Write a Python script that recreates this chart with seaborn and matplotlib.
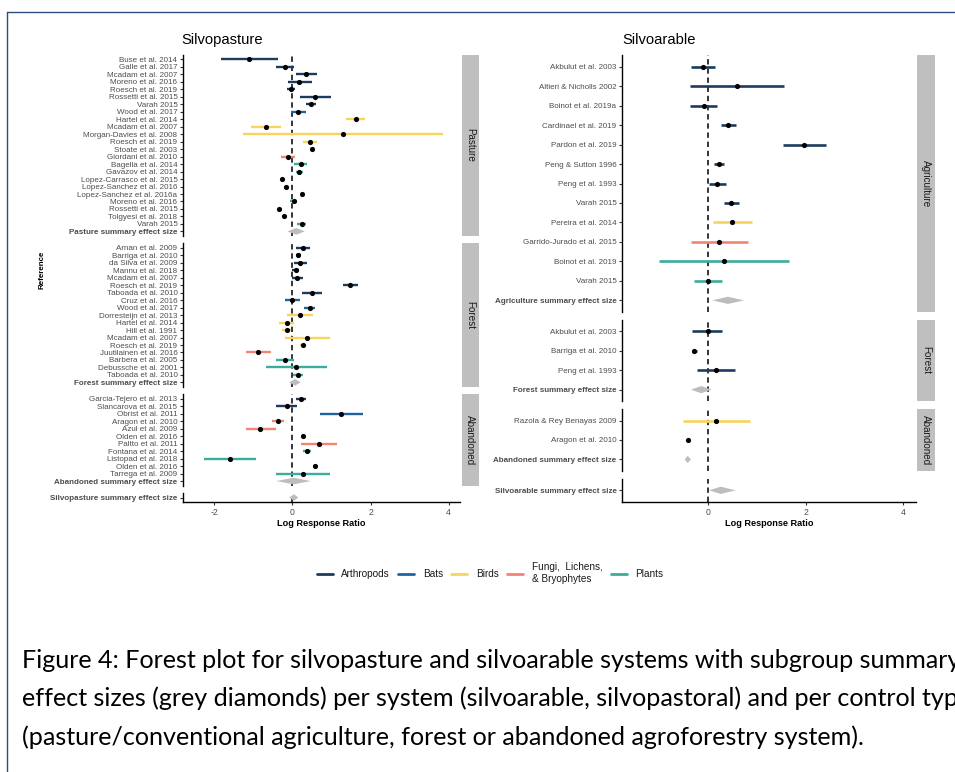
import numpy as np
import pandas as pd
import seaborn as sns
import matplotlib.pyplot as plt
from matplotlib.patches import Polygon, Rectangle
from matplotlib.lines import Line2D

# ---- couleurs par groupe taxonomique
taxa = ['Arthropods', 'Bats', 'Birds', 'Fungi', 'Plants']
taxa_labels = ['Arthropods', 'Bats', 'Birds', 'Fungi,  Lichens,\n& Bryophytes', 'Plants']
palette = {'Arthropods': '#1d3b5c', 'Bats': '#2162a0', 'Birds': '#f9d45c',
           'Fungi': '#f28471', 'Plants': '#3cac9c'}

# ---- Silvopasture / Pasture
pas_study = ['Buse et al. 2014', 'Galle et al. 2017', 'Mcadam et al. 2007', 'Moreno et al. 2016',
             'Roesch et al. 2019', 'Rossetti et al. 2015', 'Varah 2015', 'Wood et al. 2017',
             'Hartel et al. 2014', 'Mcadam et al. 2007', 'Morgan-Davies et al. 2008', 'Roesch et al. 2019',
             'Stoate et al. 2003', 'Giordani et al. 2010', 'Bagella et al. 2014', 'Gavazov et al. 2014',
             'Lopez-Carrasco et al. 2015', 'Lopez-Sanchez et al. 2016', 'Lopez-Sanchez et al. 2016a',
             'Moreno et al. 2016', 'Rossetti et al. 2015', 'Tolgyesi et al. 2018', 'Varah 2015']
pas_taxon = ['Arthropods'] * 7 + ['Bats'] + ['Birds'] * 5 + ['Fungi'] + ['Plants'] * 9
pas_est = [-1.10, -0.18, 0.35, 0.18, -0.04, 0.59, 0.48, 0.15, 1.62, -0.68, 1.29, 0.45,
           0.49, -0.12, 0.21, 0.18, -0.26, -0.16, 0.24, 0.03, -0.35, -0.22, 0.24]
pas_lo = [-1.83, -0.42, 0.09, -0.12, -0.15, 0.20, 0.35, -0.03, 1.37, -1.07, -1.26, 0.28,
          0.46, -0.29, 0.04, 0.09, -0.29, -0.22, 0.21, -0.05, -0.38, -0.25, 0.12]
pas_hi = [-0.36, 0.05, 0.62, 0.50, 0.07, 0.99, 0.60, 0.34, 1.87, -0.29, 3.85, 0.62,
          0.52, 0.06, 0.38, 0.27, -0.23, -0.10, 0.27, 0.12, -0.32, -0.19, 0.36]
pas_summary = [0.10, -0.13, 0.32]

# ---- Silvopasture / Forest
spf_study = ['Arnan et al. 2009', 'Barriga et al. 2010', 'da Silva et al. 2009', 'Mannu et al. 2018',
             'Mcadam et al. 2007', 'Roesch et al. 2019', 'Taboada et al. 2010', 'Cruz et al. 2016',
             'Wood et al. 2017', 'Dorresteijn et al. 2013', 'Hartel et al. 2014', 'Hill et al. 1991',
             'Mcadam et al. 2007', 'Roesch et al. 2019', 'Juutilainen et al. 2016', 'Barbera et al. 2005',
             'Debussche et al. 2001', 'Taboada et al. 2010']
spf_taxon = ['Arthropods'] * 7 + ['Bats'] * 2 + ['Birds'] * 5 + ['Fungi'] + ['Plants'] * 3
spf_est = [0.27, 0.15, 0.20, 0.09, 0.13, 1.48, 0.50, 0.00, 0.44, 0.20, -0.15, -0.15,
           0.38, 0.27, -0.89, -0.19, 0.10, 0.15]
spf_lo = [0.09, 0.09, 0.04, 0.00, 0.00, 1.30, 0.25, -0.19, 0.29, -0.14, -0.34, -0.26,
          -0.19, 0.20, -1.20, -0.41, -0.67, 0.02]
spf_hi = [0.46, 0.21, 0.37, 0.18, 0.27, 1.68, 0.76, 0.19, 0.59, 0.53, 0.04, -0.04,
          0.96, 0.33, -0.56, 0.04, 0.88, 0.28]
spf_summary = [0.07, -0.08, 0.21]

# ---- Silvopasture / Abandoned
spa_study = ['Garcia-Tejero et al. 2013', 'Slancarova et al. 2015', 'Obrist et al. 2011',
             'Aragon et al. 2010', 'Azul et al. 2009', 'Olden et al. 2016', 'Paltto et al. 2011',
             'Fontana et al. 2014', 'Listopad et al. 2018', 'Olden et al. 2016', 'Tarrega et al. 2009']
spa_taxon = ['Arthropods'] * 2 + ['Bats'] + ['Fungi'] * 4 + ['Plants'] * 4
spa_est = [0.21, -0.14, 1.25, -0.37, -0.82, 0.27, 0.67, 0.37, -1.59, 0.57, 0.27]
spa_lo = [0.08, -0.41, 0.70, -0.53, -1.20, 0.24, 0.22, 0.27, -2.26, 0.52, -0.41]
spa_hi = [0.34, 0.12, 1.80, -0.22, -0.43, 0.30, 1.13, 0.47, -0.92, 0.63, 0.96]
spa_summary = [0.03, -0.41, 0.47]

sp_overall = [0.04, -0.08, 0.15]

# ---- Silvoarable / Agriculture
agr_study = ['Akbulut et al. 2003', 'Altieri & Nicholls 2002', 'Boinot et al. 2019a',
             'Cardinael et al. 2019', 'Pardon et al. 2019', 'Peng & Sutton 1996', 'Peng et al. 1993',
             'Varah 2015', 'Pereira et al. 2014', 'Garrido-Jurado et al. 2015', 'Boinot et al. 2019',
             'Varah 2015']
agr_taxon = ['Arthropods'] * 8 + ['Birds', 'Fungi', 'Plants', 'Plants']
agr_est = [-0.12, 0.58, -0.10, 0.41, 1.97, 0.21, 0.18, 0.47, 0.49, 0.22, 0.32, -0.01]
agr_lo = [-0.36, -0.39, -0.38, 0.25, 1.54, 0.12, 0.01, 0.32, 0.09, -0.37, -1.02, -0.30]
agr_hi = [0.13, 1.55, 0.18, 0.57, 2.41, 0.32, 0.35, 0.62, 0.90, 0.82, 1.66, 0.28]
agr_summary = [0.40, 0.08, 0.73]

# ---- Silvoarable / Forest
saf_study = ['Akbulut et al. 2003', 'Barriga et al. 2010', 'Peng et al. 1993']
saf_taxon = ['Arthropods'] * 3
saf_est = [-0.02, -0.29, 0.15]
saf_lo = [-0.33, -0.34, -0.23]
saf_hi = [0.28, -0.24, 0.54]
saf_summary = [-0.15, -0.36, 0.06]

# ---- Silvoarable / Abandoned
saa_study = ['Razola & Rey Benayas 2009', 'Aragon et al. 2010']
saa_taxon = ['Birds', 'Fungi']
saa_est = [0.16, -0.43]
saa_lo = [-0.52, -0.47]
saa_hi = [0.85, -0.39]
saa_summary = [-0.43, -0.49, -0.36]

sa_overall = [0.25, 0.01, 0.56]

W, H = 955, 772
sns.set_theme(style='ticks')
plt.rcParams['font.family'] = ['Liberation Sans', 'DejaVu Sans']
plt.rcParams['axes.unicode_minus'] = False

fig = plt.figure(figsize=(W / 100, H / 100), dpi=100)
fig.patch.set_facecolor('white')


def fx(px):
    return px / W


def fy(py):
    return 1 - py / H


def facet(study, taxon, est, lo, hi, slabel, summ, strip):
    return dict(study=study, taxon=taxon, est=est, lo=lo, hi=hi,
                slabel=slabel, summ=summ, strip=strip)


def draw_panel(facets, x0, x1, top, bottom, gap, xlim, xticks, strip_x, lw, diam_px):
    # hauteur de chaque facette proportionnelle au nombre de lignes (+ expansion 0.6 de chaque côté)
    units = [len(f['study']) + 1.2 for f in facets]
    unit_px = (bottom - top - gap * (len(facets) - 1)) / sum(units)
    y = top
    for i, f in enumerate(facets):
        h = units[i] * unit_px
        ax = fig.add_axes([fx(x0), fy(y + h), (x1 - x0) / W, h / H])
        n = len(f['study']) + 1
        if f['study']:
            df = pd.DataFrame({'est': f['est'], 'lo': f['lo'], 'hi': f['hi'],
                               'taxon': f['taxon'], 'row': np.arange(len(f['study']))})
            ax.hlines(df['row'], df['lo'], df['hi'], colors=df['taxon'].map(palette),
                      lw=lw, zorder=3)
            sns.scatterplot(data=df, x='est', y='row', ax=ax, color='black', s=14,
                            linewidth=0, zorder=4, legend=False)
        r = n - 1
        est, lo, hi = f['summ']
        dh = diam_px / unit_px
        ax.add_patch(Polygon([(lo, r), (est, r - dh), (hi, r), (est, r + dh)],
                             closed=True, facecolor='#bdbdbd', edgecolor='none', zorder=3))
        ax.axvline(0, color='black', lw=1.1, ls=(0, (3.5, 2.5)), zorder=2)
        ax.set_xlim(xlim)
        ax.set_ylim(n - 1 + 0.6, -0.6)
        ax.set_yticks(range(n))
        ax.set_yticklabels(f['study'] + [f['slabel']])
        ax.get_yticklabels()[-1].set_fontweight('bold')
        ax.get_yticklabels()[-1].set_color('#333333')
        ax.set_xlabel('')
        ax.set_ylabel('')
        ax.set_facecolor('white')
        for s in ['top', 'right']:
            ax.spines[s].set_visible(False)
        ax.spines['left'].set_linewidth(1.0)
        ax.spines['left'].set_color('black')
        ax.tick_params(axis='y', length=2.5, width=0.8, color='#333333', labelsize=5.8,
                       labelcolor='#4d4d4d', pad=1.5)
        if i == len(facets) - 1:
            ax.set_xticks(xticks)
            ax.spines['bottom'].set_linewidth(1.0)
            ax.spines['bottom'].set_color('black')
            ax.tick_params(axis='x', length=2.5, width=0.8, color='#333333', labelsize=6.2,
                           labelcolor='#4d4d4d', pad=2)
        else:
            ax.set_xticks([])
            ax.spines['bottom'].set_visible(False)
        if f['strip']:
            fig.add_artist(Rectangle((fx(strip_x[0]), fy(y + h)), (strip_x[1] - strip_x[0]) / W,
                                     h / H, transform=fig.transFigure, facecolor='#bfbfbf',
                                     edgecolor='none'))
            fig.text(fx((strip_x[0] + strip_x[1]) / 2), fy(y + h / 2), f['strip'], rotation=-90,
                     ha='center', va='center', fontsize=7.1, color='#1a1a1a')
        y += h + gap


left_facets = [
    facet(pas_study, pas_taxon, pas_est, pas_lo, pas_hi, 'Pasture summary effect size', pas_summary, 'Pasture'),
    facet(spf_study, spf_taxon, spf_est, spf_lo, spf_hi, 'Forest summary effect size', spf_summary, 'Forest'),
    facet(spa_study, spa_taxon, spa_est, spa_lo, spa_hi, 'Abandoned summary effect size', spa_summary, 'Abandoned'),
    facet([], [], [], [], [], 'Silvopasture summary effect size', sp_overall, None),
]
right_facets = [
    facet(agr_study, agr_taxon, agr_est, agr_lo, agr_hi, 'Agriculture summary effect size', agr_summary, 'Agriculture'),
    facet(saf_study, saf_taxon, saf_est, saf_lo, saf_hi, 'Forest summary effect size', saf_summary, 'Forest'),
    facet(saa_study, saa_taxon, saa_est, saa_lo, saa_hi, 'Abandoned summary effect size', saa_summary, 'Abandoned'),
    facet([], [], [], [], [], 'Silvoarable summary effect size', sa_overall, None),
]

draw_panel(left_facets, 183, 460, 55, 502, 7.5, (-2.8, 4.29), [-2, 0, 2, 4], (461.5, 479), 1.7, 3.3)
draw_panel(right_facets, 622, 916, 55, 502, 7.5, (-1.78, 4.27), [0, 2, 4], (917, 935), 1.9, 3.6)

# titres et axes
fig.text(fx(181), fy(40), 'Silvopasture', fontsize=10.6, va='center', ha='left', color='black')
fig.text(fx(622), fy(40), 'Silvoarable', fontsize=10.6, va='center', ha='left', color='black')
fig.text(fx(42), fy(270), 'Reference', rotation=90, fontsize=5.8, fontweight='bold',
         ha='center', va='center', color='black')
fig.text(fx(321.5), fy(524), 'Log Response Ratio', fontsize=6.6, fontweight='bold',
         ha='center', va='center', color='black')
fig.text(fx(769), fy(524), 'Log Response Ratio', fontsize=6.6, fontweight='bold',
         ha='center', va='center', color='black')

# légende
handles = [Line2D([0], [0], color=palette[t], lw=2) for t in taxa]
fig.legend(handles, taxa_labels, ncol=5, loc='center', bbox_to_anchor=(fx(490), fy(573)),
           frameon=False, fontsize=7.2, handlelength=1.6, handletextpad=0.85,
           columnspacing=0.85, labelcolor='#1a1a1a')

# cadre et légende de figure
fig.add_artist(Line2D([fx(7), fx(7)], [fy(12), 0], transform=fig.transFigure,
                      color='#2d4f7f', lw=1.0))
fig.add_artist(Line2D([fx(7), 1], [fy(12), fy(12)], transform=fig.transFigure,
                      color='#2d4f7f', lw=1.0))
caption = ['Figure 4: Forest plot for silvopasture and silvoarable systems with subgroup summary',
           'effect sizes (grey diamonds) per system (silvoarable, silvopastoral) and per control type',
           '(pasture/conventional agriculture, forest or abandoned agroforestry system).']
for k, line in enumerate(caption):
    fig.text(fx(22), fy(660 + 38.5 * k), line, fontsize=18.1, va='center', ha='left',
             color='black', family=['Lato', 'DejaVu Sans'])

fig.savefig('out.png', dpi=100)
